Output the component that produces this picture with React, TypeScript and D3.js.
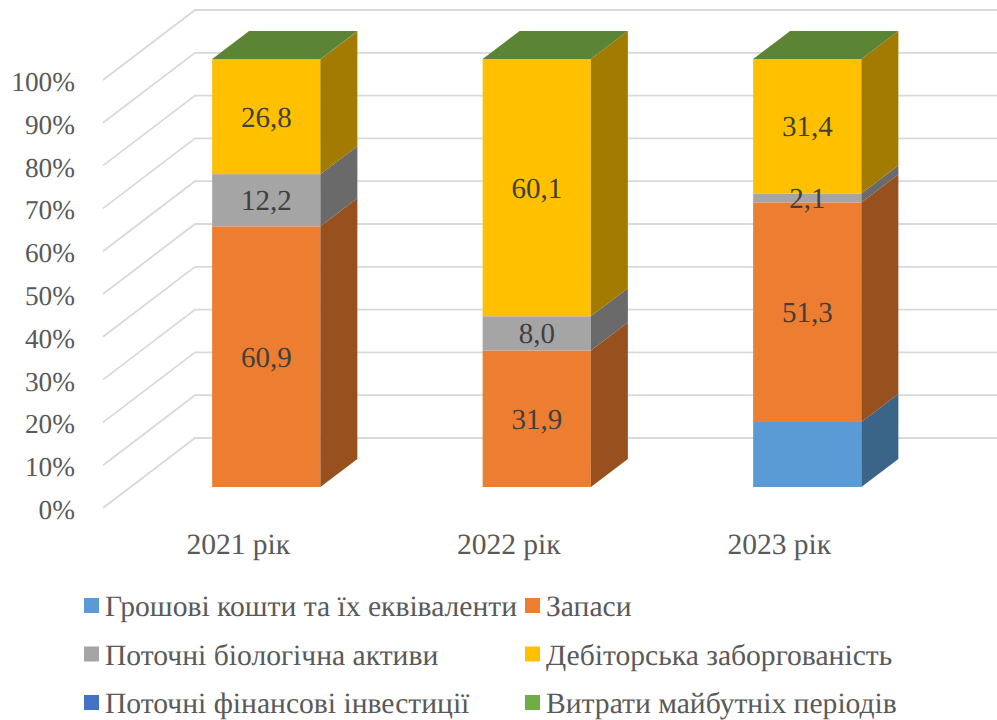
import React, { useEffect, useRef } from 'react';
import * as d3 from 'd3';

const years = ['2021 рік', '2022 рік', '2023 рік'];
const cash = [0, 0, 15.2];
const stocks = [60.9, 31.9, 51.3];
const bioAssets = [12.2, 8.0, 2.1];
const receivables = [26.8, 60.1, 31.4];
const investments = [0, 0, 0];
const prepaid = [0.1, 0.02, 0.02];

const seriesNames = [
  'Грошові кошти та їх еквіваленти',
  'Запаси',
  'Поточні біологічна активи',
  'Дебіторська заборгованість',
  'Поточні фінансові інвестиції',
  'Витрати майбутніх періодів',
];
const seriesValues = [cash, stocks, bioAssets, receivables, investments, prepaid];
const frontColors = ['#5B9BD5', '#ED7D31', '#A5A5A5', '#FFC000', '#4472C4', '#70AD47'];
const sideColors = ['#3A6488', '#98501E', '#6A6A6A', '#A37B00', '#2B4A80', '#48702D'];
const topColor = '#5B8435';
const labelledSeries = [1, 2, 3];
const yTicks = [0, 0.1, 0.2, 0.3, 0.4, 0.5, 0.6, 0.7, 0.8, 0.9, 1];

const WIDTH = 997;
const HEIGHT = 720;
const FONT = '"Liberation Serif", serif';

function App() {
  const svgRef = useRef<SVGSVGElement>(null);

  useEffect(() => {
    const svg = d3.select(svgRef.current);
    svg.selectAll('*').remove();
    svg.attr('text-rendering', 'geometricPrecision');

    // bars stand in the middle of the floor, gap + bar + gap along the depth
    const barDepth = { x: 37, y: -28 };
    const gapDepth = { x: 28, y: -21 };

    const x = d3.scaleBand<string>().domain(years).range([131, 942.5]).paddingInner(0.6).paddingOuter(0.3);
    const y = d3.scaleLinear().domain([0, 1]).range([487, 59]);

    const rows = years.map((_, i) => {
      const row: Record<string, number> = {};
      seriesNames.forEach((name, s) => { row[name] = seriesValues[s][i]; });
      return row;
    });
    const stacked = d3.stack<Record<string, number>>().keys(seriesNames).offset(d3.stackOffsetExpand)(rows);

    // gridlines: slanted floor part and long back wall part
    const grid = svg.append('g').attr('fill', 'none').attr('stroke', '#D9D9D9').attr('stroke-width', 1.8);
    const floorLeft = x.range()[0] - gapDepth.x;
    const wallLeft = x.range()[0] + barDepth.x + gapDepth.x - 1;
    grid.selectAll('path')
      .data(yTicks)
      .enter()
      .append('path')
      .attr('d', d => {
        const py = y(d);
        const line = d3.line();
        return line([
          [floorLeft, py - gapDepth.y],
          [wallLeft, py + barDepth.y + gapDepth.y],
          [1006, py + barDepth.y + gapDepth.y],
        ]);
      });

    // y axis labels
    svg.append('g')
      .selectAll('text')
      .data(yTicks)
      .enter()
      .append('text')
      .attr('x', 75)
      .attr('y', d => y(d) + 32)
      .attr('text-anchor', 'end')
      .attr('font-family', FONT)
      .attr('font-size', 27.3)
      .attr('fill', '#595959')
      .text(d => d3.format('.0%')(d));

    // category labels sit under the front edge of the floor
    svg.append('g')
      .selectAll('text')
      .data(years)
      .enter()
      .append('text')
      .attr('x', d => x(d)! + x.bandwidth() / 2 - gapDepth.x)
      .attr('y', 554)
      .attr('text-anchor', 'middle')
      .attr('font-family', FONT)
      .attr('font-size', 29.5)
      .attr('fill', '#595959')
      .text(d => d);

    // bars
    const bars = svg.append('g');
    stacked.forEach((layer, s) => {
      layer.forEach((seg, i) => {
        if (seg[1] - seg[0] <= 0) return;
        const x0 = x(years[i])!;
        const x1 = x0 + x.bandwidth();
        const yTop = y(seg[1]);
        const yBottom = y(seg[0]);
        bars.append('rect')
          .attr('x', x0)
          .attr('y', yTop)
          .attr('width', x.bandwidth())
          .attr('height', yBottom - yTop)
          .attr('fill', frontColors[s]);
        bars.append('polygon')
          .attr('points', [
            [x1, yBottom],
            [x1 + barDepth.x, yBottom + barDepth.y],
            [x1 + barDepth.x, yTop + barDepth.y],
            [x1, yTop],
          ].join(' '))
          .attr('fill', sideColors[s]);
      });
    });

    // top faces
    bars.selectAll('polygon.top')
      .data(years)
      .enter()
      .append('polygon')
      .attr('class', 'top')
      .attr('points', d => {
        const x0 = x(d)!;
        const x1 = x0 + x.bandwidth();
        const t = y(1);
        return [
          [x0, t],
          [x1, t],
          [x1 + barDepth.x, t + barDepth.y],
          [x0 + barDepth.x, t + barDepth.y],
        ].join(' ');
      })
      .attr('fill', topColor);

    // data labels
    labelledSeries.forEach(s => {
      stacked[s].forEach((seg, i) => {
        svg.append('text')
          .attr('x', x(years[i])! + x.bandwidth() / 2)
          .attr('y', (y(seg[0]) + y(seg[1])) / 2 + 10)
          .attr('text-anchor', 'middle')
          .attr('font-family', FONT)
          .attr('font-size', 29)
          .attr('fill', '#404040')
          .text(d3.format('.1f')(seriesValues[s][i]).replace('.', ','));
      });
    });

    // legend, two columns and three rows
    const legend = svg.selectAll('.legend')
      .data(seriesNames)
      .enter()
      .append('g')
      .attr('class', 'legend')
      .attr('transform', (_, i) => `translate(${i % 2 === 0 ? 84 : 525},${598 + Math.floor(i / 2) * 48.5})`);

    legend.append('rect')
      .attr('width', 15)
      .attr('height', 15)
      .attr('fill', (_, i) => frontColors[i]);

    legend.append('text')
      .attr('x', 21)
      .attr('y', 18)
      .attr('font-family', FONT)
      .attr('font-size', 29.6)
      .attr('fill', '#595959')
      .text(d => d);
  }, []);

  return (
    <svg
      ref={svgRef}
      width={WIDTH}
      height={HEIGHT}
      style={{ position: 'absolute', left: 0, top: 0, background: '#fff' }}
    />
  );
}

export default App;
